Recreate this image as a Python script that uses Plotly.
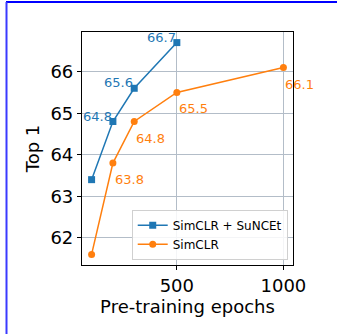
import plotly.graph_objects as go

# Pre-training epochs and top-1 accuracy for each method
suncet_epochs = [100, 200, 300, 500]
suncet_top1 = [63.4, 64.8, 65.6, 66.7]
simclr_epochs = [100, 200, 300, 500, 1000]
simclr_top1 = [61.6, 63.8, 64.8, 65.5, 66.1]

# Which points carry a value label
suncet_labelled = [False, True, True, True]
simclr_labelled = [False, True, True, True, True]

series_names = ["SimCLR + SuNCEt", "SimCLR"]
x_ticks = [500, 1000]
y_ticks = [62, 63, 64, 65, 66]

BLUE = "#1f77b4"
ORANGE = "#ff7f0e"
FONT = "DejaVu Sans"

fig = go.Figure()
fig.add_trace(go.Scatter(
    x=suncet_epochs, y=suncet_top1, name=series_names[0], mode="lines+markers",
    line=dict(color=BLUE, width=1.5),
    marker=dict(symbol="square", size=7, color=BLUE),
    cliponaxis=False,
))
fig.add_trace(go.Scatter(
    x=simclr_epochs, y=simclr_top1, name=series_names[1], mode="lines+markers",
    line=dict(color=ORANGE, width=1.5),
    marker=dict(symbol="circle", size=7, color=ORANGE),
    cliponaxis=False,
))

# Value labels: SuNCEt above-left of its points, SimCLR below-right
for x, y, show in zip(suncet_epochs, suncet_top1, suncet_labelled):
    if show:
        fig.add_annotation(x=x, y=y, text=f"{y:.1f}", showarrow=False,
                           xanchor="right", yanchor="bottom", xshift=1, yshift=-4,
                           font=dict(family=FONT, size=13, color=BLUE))
for x, y, show in zip(simclr_epochs, simclr_top1, simclr_labelled):
    if show:
        fig.add_annotation(x=x, y=y, text=f"{y:.1f}", showarrow=False,
                           xanchor="left", yanchor="top", xshift=0, yshift=-7,
                           font=dict(family=FONT, size=13, color=ORANGE))

axis_common = dict(
    showline=True, linecolor="black", linewidth=1.2, mirror=True,
    ticks="outside", ticklen=4, tickwidth=1, tickcolor="black",
    showgrid=True, gridcolor="#b3bdc8", gridwidth=1,
    zeroline=False,
    tickfont=dict(family=FONT, size=18, color="black"),
)

fig.update_xaxes(
    range=[55, 1045], tickvals=x_ticks,
    title=dict(text="Pre-training epochs", font=dict(family=FONT, size=18, color="black"), standoff=4),
    **axis_common,
)
fig.update_yaxes(
    range=[61.345, 66.955], tickvals=y_ticks,
    title=dict(text="Top 1", font=dict(family=FONT, size=18, color="black"), standoff=6),
    **axis_common,
)

# Page frame lines along the top and left edges
fig.add_shape(type="line", xref="paper", yref="paper",
              x0=(6 - 82) / 211, x1=(337 - 82) / 211,
              y0=1 + 30 / 233, y1=1 + 30 / 233,
              line=dict(color="blue", width=2))
fig.add_shape(type="line", xref="paper", yref="paper",
              x0=(6.5 - 82) / 211, x1=(6.5 - 82) / 211,
              y0=1 + 30 / 233, y1=(265 - 334) / 233,
              line=dict(color="#3a3aff", width=2))

fig.update_layout(
    width=337, height=334,
    margin=dict(l=82, r=44, t=32, b=69),
    paper_bgcolor="white", plot_bgcolor="white",
    showlegend=True,
    legend=dict(
        x=0.975, y=0.022, xanchor="right", yanchor="bottom",
        bgcolor="rgba(255,255,255,0.85)", bordercolor="#d0d0d0", borderwidth=1,
        font=dict(family=FONT, size=12, color="black"),
        tracegroupgap=0, itemwidth=30,
    ),
    font=dict(family=FONT),
)

fig.write_html("out.html")
